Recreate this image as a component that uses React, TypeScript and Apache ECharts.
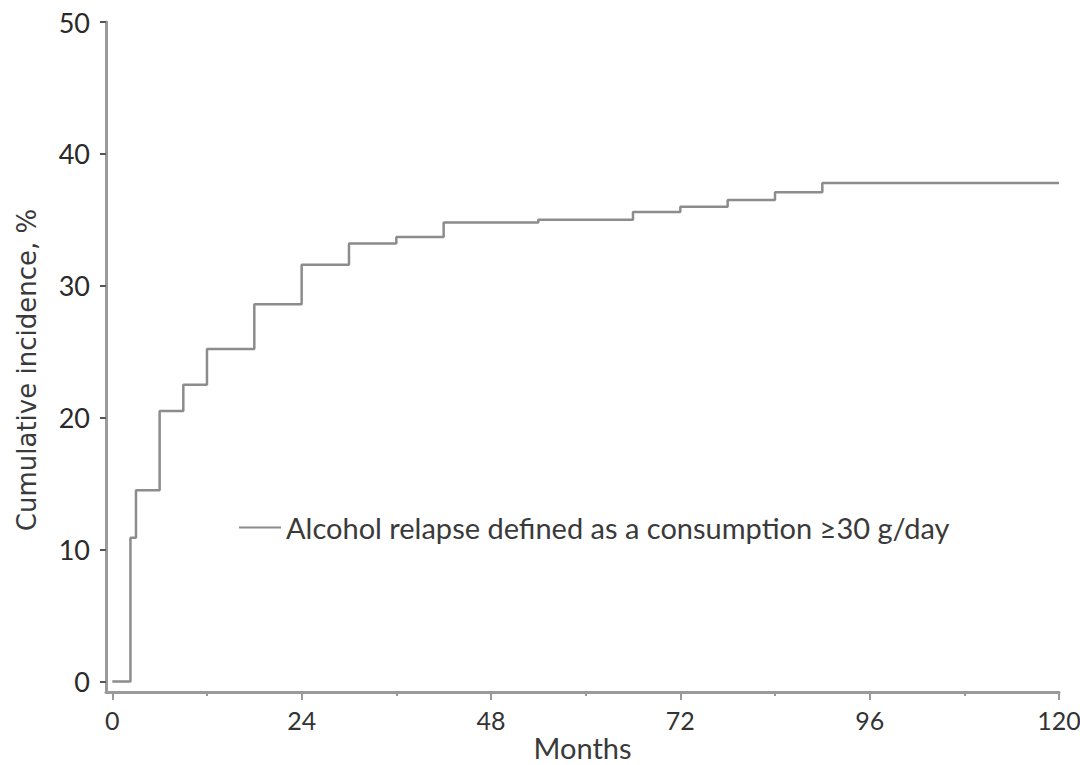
import React, { useEffect, useRef } from "react";
import * as echarts from "echarts";

const months = [0, 2.3, 3, 6, 9, 12, 18, 24, 30, 36, 42, 54, 66, 72, 78, 84, 90, 120];
const incidence = [0, 10.9, 14.5, 20.5, 22.5, 25.2, 28.6, 31.6, 33.2, 33.7, 34.8, 35.0, 35.6, 36.0, 36.5, 37.1, 37.8, 37.8];
const xMajorTicks = [0, 24, 48, 72, 96, 120];
const xMinorTicks = [12, 36, 60, 84, 108];
const yTicks = [0, 10, 20, 30, 40, 50];
const seriesName = "Alcohol relapse defined as a consumption \u226530 g/day";
const xTitle = "Months";
const yTitle = "Cumulative incidence, %";

const FONT = 'Lato, "Liberation Sans", sans-serif';

export default function App() {
  const ref = useRef<HTMLDivElement>(null);
  useEffect(() => {
    if (!ref.current) return;
    const chart = echarts.init(ref.current, null, { renderer: "svg" });
    const data = months.map((m, i) => [m, incidence[i]]);
    chart.setOption({
      animation: false,
      backgroundColor: "#ffffff",
      textStyle: { fontFamily: FONT },
      grid: { left: 106, right: 21, top: 22, bottom: 73, outerBoundsMode: "none", containLabel: false },
      legend: {
        left: 234,
        top: 508,
        itemWidth: 42,
        itemHeight: 14,
        itemGap: 10,
        textStyle: { fontFamily: FONT, fontSize: 29, color: "#3a3a3a" },
        data: [{ name: seriesName, icon: "path://M0,0 L42,0 L42,2 L0,2 Z" }],
      },
      xAxis: [
        {
          type: "value",
          min: -0.8,
          max: 120,
          name: xTitle,
          nameLocation: "middle",
          nameGap: 41,
          nameMoveOverlap: false,
          nameTextStyle: { fontFamily: FONT, fontSize: 29, lineHeight: 28, color: "#3a3a3a" },
          axisLine: { show: true, onZero: false, lineStyle: { color: "#9a9a9a", width: 3 } },
          axisTick: {
            show: true,
            length: 8,
            customValues: xMajorTicks,
            lineStyle: { color: "#9a9a9a", width: 2 },
          },
          axisLabel: {
            customValues: xMajorTicks,
            margin: 15,
            fontFamily: FONT,
            fontSize: 25,
            color: "#333333",
          },
          splitLine: { show: false },
        },
        {
          type: "value",
          min: -0.8,
          max: 120,
          position: "bottom",
          axisLine: { show: false, onZero: false },
          axisTick: {
            show: true,
            length: 4,
            customValues: xMinorTicks,
            lineStyle: { color: "#9a9a9a", width: 2 },
          },
          axisLabel: { show: false },
          splitLine: { show: false },
        },
      ],
      yAxis: {
        type: "value",
        min: -0.8,
        max: 50,
        name: yTitle,
        nameLocation: "middle",
        nameGap: 66,
        nameMoveOverlap: false,
        nameTextStyle: {
          fontFamily: '"DejaVu Sans", sans-serif',
          fontSize: 26,
          color: "#3a3a3a",
          padding: [0, 26, 0, 0],
        },
        axisLine: { show: true, onZero: false, lineStyle: { color: "#9a9a9a", width: 3 } },
        axisTick: {
          show: true,
          length: 6,
          customValues: yTicks,
          lineStyle: { color: "#555555", width: 2 },
        },
        axisLabel: {
          customValues: yTicks,
          margin: 16,
          fontFamily: FONT,
          fontSize: 27,
          color: "#2a2a2a",
        },
        splitLine: { show: false },
      },
      series: [
        {
          name: seriesName,
          type: "line",
          xAxisIndex: 0,
          step: "end",
          symbol: "none",
          data,
          lineStyle: { color: "#8c8c8c", width: 2.5 },
          itemStyle: { color: "#8c8c8c" },
        },
      ],
    });
    return () => chart.dispose();
  }, []);
  return (
    <div
      ref={ref}
      style={{ position: "absolute", left: 0, top: 0, width: 1080, height: 765 }}
    />
  );
}
